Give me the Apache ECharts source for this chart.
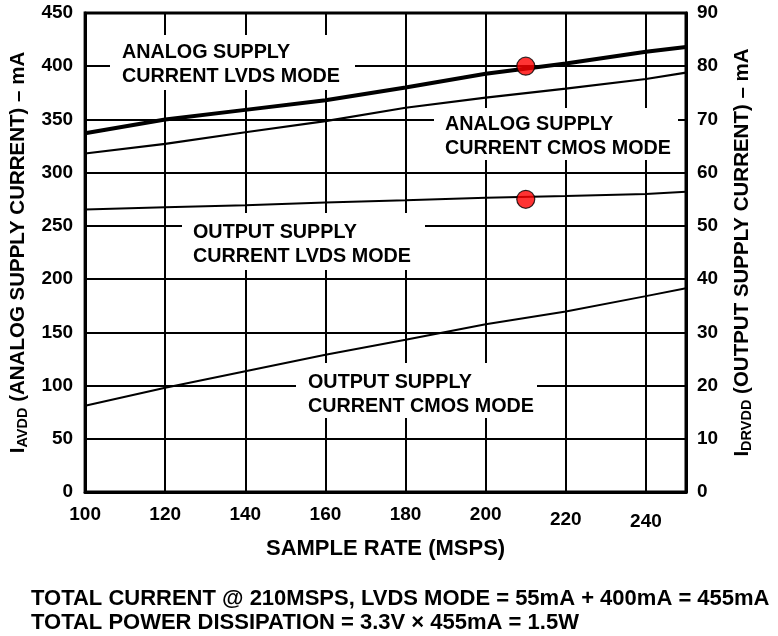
<!DOCTYPE html>
<html>
<head>
<meta charset="utf-8">
<script src="https://cdn.jsdelivr.net/npm/echarts@6/dist/echarts.min.js"></script>
<style>
  html, body { margin: 0; padding: 0; background: #fff; }
  #chart { width: 778px; height: 636px; }
</style>
</head>
<body>
<div id="chart"></div>
<script>
// ===== data =====
const sampleRate = [100, 120, 140, 160, 180, 200, 220, 240, 250];
// left axis (mA)
const analogLvds = [337, 350, 359, 368, 380, 393, 402.5, 413.5, 418];
const analogCmos = [318, 327, 338, 348.5, 361, 370.5, 379, 388, 394];
// right axis (mA)
const outputLvds = [53.1, 53.5, 53.9, 54.4, 54.8, 55.3, 55.6, 56.0, 56.4];
const outputCmos = [16.2, 19.6, 22.7, 25.8, 28.6, 31.5, 33.9, 36.8, 38.3];
// operating point @ 210 MSPS
const opRate = 210;
const opAnalog = 400;
const opOutput = 55;

const footLines = [
  'TOTAL CURRENT @ 210MSPS, LVDS MODE = 55mA + 400mA = 455mA',
  'TOTAL POWER DISSIPATION = 3.3V \u00d7 455mA = 1.5W'
];

const FONT = '"Liberation Sans", Arial, Helvetica, sans-serif';
const pair = (xs, ys) => xs.map((x, i) => [x, ys[i]]);

const chart = echarts.init(document.getElementById('chart'));

// white label boxes that cut the grid lines
function labelBox(x, y, w, h, tx, ty, lines) {
  return {
    type: 'group',
    children: [
      { type: 'rect', z: 2, shape: { x: x, y: y, width: w, height: h }, style: { fill: '#fff' }, silent: true },
      {
        type: 'text', z: 2, x: tx, y: ty,
        style: {
          text: lines.join('\n'),
          font: 'bold 19.75px ' + FONT,
          fill: '#000',
          lineHeight: 24
        }
      }
    ]
  };
}

const axisTitleRich = {
  big: { fontFamily: FONT, fontWeight: 'bold', fontSize: 20.5, color: '#000' },
  sub: { fontFamily: FONT, fontWeight: 'bold', fontSize: 14.5, color: '#000', verticalAlign: 'bottom', padding: [9, 0, 0, 0] }
};

const tickFont = { fontFamily: FONT, fontWeight: 'bold', fontSize: 19, color: '#000' };

const option = {
  backgroundColor: '#fff',
  animation: false,
  grid: {
    left: 84, right: 92, top: 13, bottom: 144,
    show: true, borderColor: '#000', borderWidth: 3
  },
  xAxis: {
    type: 'value',
    min: 100, max: 250, interval: 20,
    name: 'SAMPLE RATE (MSPS)',
    nameLocation: 'middle',
    nameGap: 46,
    nameTextStyle: { fontFamily: FONT, fontWeight: 'bold', fontSize: 22, color: '#000' },
    axisLine: { lineStyle: { color: '#000', width: 3 } },
    axisTick: { show: false },
    axisLabel: Object.assign({}, tickFont, {
      margin: 13,
      showMaxLabel: false,
      // the scanned figure prints 220 and 240 slightly lower
      formatter: v => (v === 220 ? '{a|220}' : v === 240 ? '{b|240}' : String(v)),
      rich: {
        a: Object.assign({}, tickFont, { padding: [5, 0, 0, 0] }),
        b: Object.assign({}, tickFont, { padding: [7, 0, 0, 0] })
      }
    }),
    splitLine: { show: true, lineStyle: { color: '#000', width: 2 } }
  },
  yAxis: [
    {
      type: 'value', position: 'left',
      min: 0, max: 450, interval: 50,
      name: '{big|I}{sub|AVDD}{big| (ANALOG SUPPLY CURRENT) \u2013 mA}',
      nameLocation: 'middle',
      nameRotate: 90,
      nameGap: 47,
      nameTextStyle: { color: '#000', rich: axisTitleRich },
      axisLine: { show: true, lineStyle: { color: '#000', width: 3 } },
      axisTick: { show: false },
      axisLabel: Object.assign({}, tickFont, { margin: 12 }),
      splitLine: { show: true, lineStyle: { color: '#000', width: 2 } }
    },
    {
      type: 'value', position: 'right',
      min: 0, max: 90, interval: 10,
      name: '{big|I}{sub|DRVDD}{big| (OUTPUT SUPPLY CURRENT) \u2013 mA}',
      nameLocation: 'middle',
      nameRotate: 90,
      nameGap: 44,
      nameTextStyle: { color: '#000', rich: axisTitleRich },
      axisLine: { show: true, lineStyle: { color: '#000', width: 3 } },
      axisTick: { show: false },
      axisLabel: Object.assign({}, tickFont, { margin: 11 }),
      splitLine: { show: false }
    }
  ],
  graphic: [
    labelBox(110, 35, 245, 55, 122, 41, ['ANALOG SUPPLY', 'CURRENT LVDS MODE']),
    labelBox(434, 108, 244, 52, 445, 113, ['ANALOG SUPPLY', 'CURRENT CMOS MODE']),
    labelBox(182, 213, 243, 57, 193, 221, ['OUTPUT SUPPLY', 'CURRENT LVDS MODE']),
    labelBox(296, 363, 241, 55, 308, 371, ['OUTPUT SUPPLY', 'CURRENT CMOS MODE']),
    {
      type: 'text', x: 31, y: 588, z: 2,
      style: { text: footLines[0], font: 'bold 22px ' + FONT, fill: '#000' }
    },
    {
      type: 'text', x: 31, y: 612, z: 2,
      style: { text: footLines[1], font: 'bold 22px ' + FONT, fill: '#000' }
    }
  ],
  series: [
    {
      name: 'Analog LVDS', type: 'line', yAxisIndex: 0, z: 3,
      data: pair(sampleRate, analogLvds),
      symbol: 'none', lineStyle: { color: '#000', width: 4 }
    },
    {
      name: 'Analog CMOS', type: 'line', yAxisIndex: 0, z: 3,
      data: pair(sampleRate, analogCmos),
      symbol: 'none', lineStyle: { color: '#000', width: 2.2 }
    },
    {
      name: 'Output LVDS', type: 'line', yAxisIndex: 1, z: 3,
      data: pair(sampleRate, outputLvds),
      symbol: 'none', lineStyle: { color: '#000', width: 2 }
    },
    {
      name: 'Output CMOS', type: 'line', yAxisIndex: 1, z: 3,
      data: pair(sampleRate, outputCmos),
      symbol: 'none', lineStyle: { color: '#000', width: 2 }
    },
    {
      name: 'Op analog', type: 'scatter', yAxisIndex: 0, z: 4,
      data: [[opRate, opAnalog]],
      symbolSize: 18,
      itemStyle: { color: '#ff0000', borderColor: '#000', borderWidth: 1.2 }
    },
    {
      name: 'Op output', type: 'scatter', yAxisIndex: 1, z: 4,
      data: [[opRate, opOutput]],
      symbolSize: 18,
      itemStyle: { color: '#ff0000', borderColor: '#000', borderWidth: 1.2 }
    }
  ]
};

chart.setOption(option);
</script>
</body>
</html>
